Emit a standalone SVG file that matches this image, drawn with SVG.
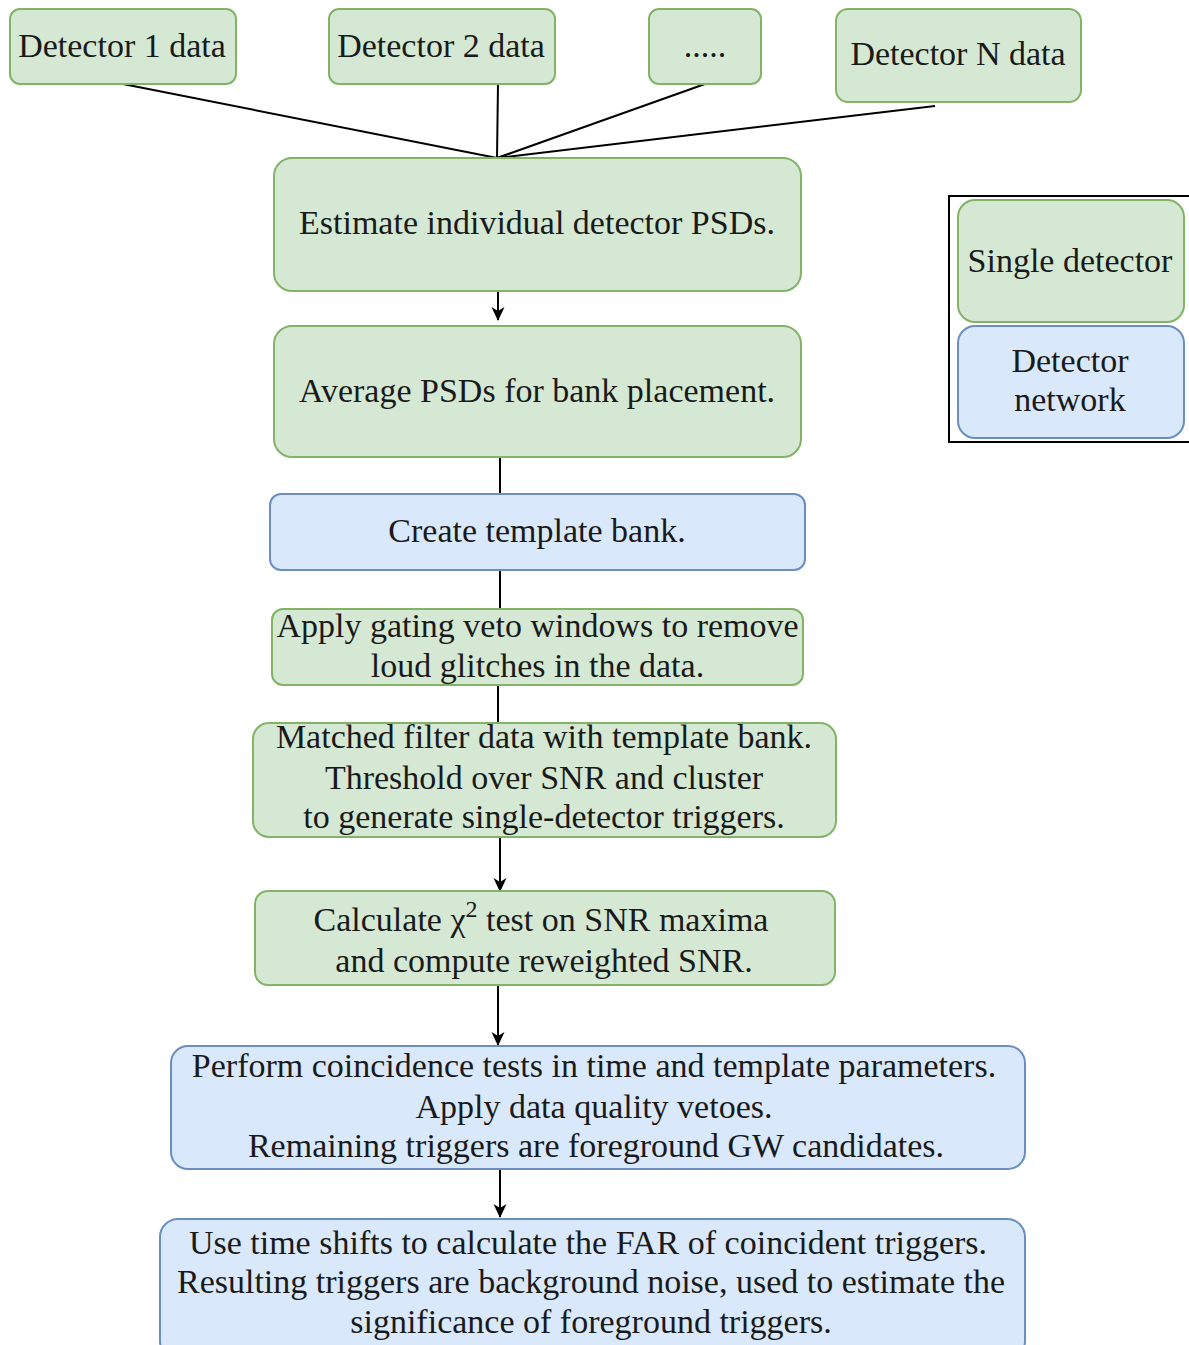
<svg xmlns="http://www.w3.org/2000/svg" width="1189" height="1345" viewBox="0 0 1189 1345">
<style>
.g{fill:#d5e8d4;stroke:#82b366;stroke-width:2}
.b{fill:#dae8fc;stroke:#6c8ebf;stroke-width:2}
.t{font-family:"Liberation Serif","Times New Roman",serif;font-size:34px;fill:#1a1a1a;text-anchor:middle}
.c{fill:none;stroke:#000;stroke-width:2}
</style>
<defs>
<marker id="ah" markerWidth="14" markerHeight="14" refX="13" refY="7" orient="auto" markerUnits="userSpaceOnUse" viewBox="0 0 14 14">
<path d="M0,0.5 L14,7 L0,13.5 L4,7 Z" fill="#000"/>
</marker>
</defs>
<rect width="1189" height="1345" fill="#fff"/>
<g id="connectors">
<line class="c" x1="123" y1="84" x2="497" y2="158"/>
<line class="c" x1="498" y1="84" x2="497" y2="158"/>
<line class="c" x1="705" y1="84" x2="497" y2="158"/>
<line class="c" x1="935" y1="106" x2="497" y2="158"/>
<line class="c" x1="498" y1="291" x2="498" y2="320" marker-end="url(#ah)"/>
<line class="c" x1="500" y1="457" x2="500" y2="494"/>
<line class="c" x1="500" y1="570" x2="500" y2="609"/>
<line class="c" x1="498" y1="685" x2="498" y2="723"/>
<line class="c" x1="500" y1="837" x2="500" y2="891" marker-end="url(#ah)"/>
<line class="c" x1="498" y1="985" x2="498" y2="1045" marker-end="url(#ah)"/>
<line class="c" x1="500" y1="1169" x2="500" y2="1217" marker-end="url(#ah)"/>
</g>
<g id="det1"><rect class="g" x="10" y="9" width="226" height="75" rx="10"/><text class="t" x="122" y="57">Detector 1 data</text></g>
<g id="det2"><rect class="g" x="329" y="9" width="226" height="75" rx="10"/><text class="t" x="441" y="57">Detector 2 data</text></g>
<g id="detdots"><rect class="g" x="649" y="9" width="112" height="75" rx="10"/><text class="t" x="705" y="57">.....</text></g>
<g id="detN"><rect class="g" x="836" y="9" width="245" height="93" rx="12"/><text class="t" x="958" y="65">Detector N data</text></g>
<g id="estimate"><rect class="g" x="274" y="158" width="527" height="133" rx="18"/><text class="t" x="537" y="234">Estimate individual detector PSDs.</text></g>
<g id="average"><rect class="g" x="274" y="326" width="527" height="131" rx="18"/><text class="t" x="537" y="402">Average PSDs for bank placement.</text></g>
<g id="create"><rect class="b" x="270" y="494" width="535" height="76" rx="11"/><text class="t" x="537" y="542">Create template bank.</text></g>
<g id="gating"><rect class="g" x="272" y="609" width="531" height="76" rx="11"/><text class="t" x="537.5" y="637">Apply gating veto windows to remove</text><text class="t" x="537.5" y="677">loud glitches in the data.</text></g>
<g id="matched"><rect class="g" x="253" y="723" width="583" height="114" rx="16"/><text class="t" x="544" y="748">Matched filter data with template bank.</text><text class="t" x="544" y="789">Threshold over SNR and cluster</text><text class="t" x="544" y="828">to generate single-detector triggers.</text></g>
<g id="chi"><rect class="g" x="255" y="891" width="580" height="94" rx="13"/><text class="t" x="541" y="931">Calculate χ<tspan font-size="24" dy="-14">2</tspan><tspan dy="14"> test on SNR maxima</tspan></text><text class="t" x="544" y="972">and compute reweighted SNR.</text></g>
<g id="coinc"><rect class="b" x="171" y="1046" width="854" height="123" rx="17"/><text class="t" x="594" y="1077">Perform coincidence tests in time and template parameters.</text><text class="t" x="594" y="1118">Apply data quality vetoes.</text><text class="t" x="596" y="1157">Remaining triggers are foreground GW candidates.</text></g>
<g id="timeshift"><rect class="b" x="160" y="1219" width="865" height="140" rx="18"/><text class="t" x="588" y="1254">Use time shifts to calculate the FAR of coincident triggers.</text><text class="t" x="591" y="1293">Resulting triggers are background noise, used to estimate the</text><text class="t" x="591" y="1333">significance of foreground triggers.</text></g>
<g id="legend">
<rect x="949" y="196" width="250" height="246" fill="#fff" stroke="#000" stroke-width="2"/>
<g id="leg-single"><rect class="g" x="958" y="200" width="226" height="122" rx="17"/><text class="t" x="1070" y="272">Single detector</text></g>
<g id="leg-network"><rect class="b" x="958" y="326" width="226" height="112" rx="17"/><text class="t" x="1070" y="372">Detector</text><text class="t" x="1070" y="411">network</text></g>
</g>
</svg>
